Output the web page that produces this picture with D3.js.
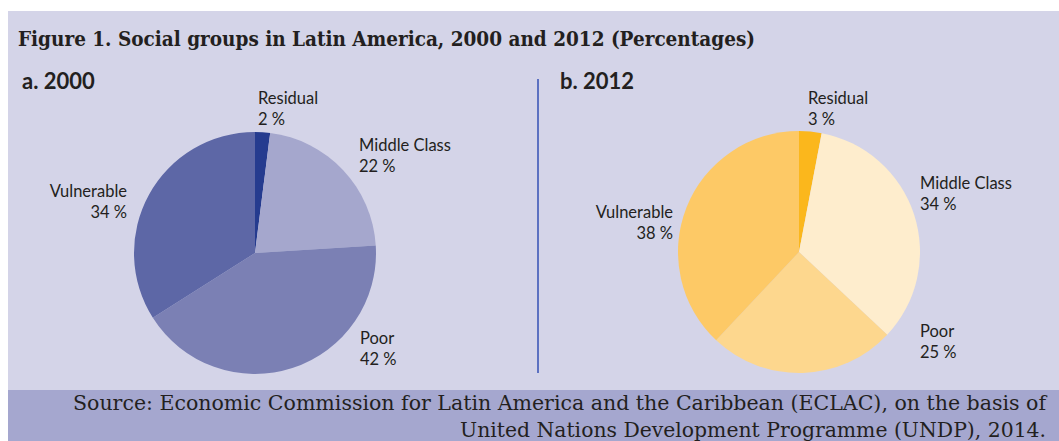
<!DOCTYPE html>
<html>
<head>
<meta charset="utf-8">
<script src="https://cdn.jsdelivr.net/npm/d3@7"></script>
<style>
  html, body { margin: 0; padding: 0; background: #fff; }
  svg { display: block; }
</style>
</head>
<body>
<svg width="1059" height="441"></svg>
<script>
// data
const groups = ["Residual", "Middle Class", "Poor", "Vulnerable"];
const values2000 = [2, 22, 42, 34];
const values2012 = [3, 34, 25, 38];
const panelTitles = ["a. 2000", "b. 2012"];

const svg = d3.select("svg");
const W = 1059, H = 441;

// background panels
svg.append("rect").attr("x", 8).attr("y", 11).attr("width", W - 8).attr("height", 379).attr("fill", "#d4d4e8");
svg.append("rect").attr("x", 8).attr("y", 390).attr("width", W - 8).attr("height", H - 390).attr("fill", "#a5a7cf");

const slab = "'DejaVu Serif Condensed', 'DejaVu Serif', serif";

svg.append("text")
  .attr("x", 18).attr("y", 46)
  .attr("font-family", slab).attr("font-weight", "bold").attr("font-size", 21)
  .attr("fill", "#231f20")
  .attr("textLength", 737).attr("lengthAdjust", "spacingAndGlyphs")
  .text("Figure 1. Social groups in Latin America, 2000 and 2012 (Percentages)");

// divider
svg.append("line").attr("x1", 538).attr("x2", 538).attr("y1", 79).attr("y2", 373)
  .attr("stroke", "#3550b5").attr("stroke-width", 1.5);

const panels = [
  { title: panelTitles[0], tx: 22, cx: 255, cy: 253, values: values2000,
    colors: ["#253b8f", "#a5a7cd", "#7b80b4", "#5d67a6"],
    labels: [
      { x: 258, y: 104, anchor: "start" },
      { x: 359, y: 151, anchor: "start" },
      { x: 360, y: 344, anchor: "start" },
      { x: 127, y: 197, anchor: "end" }
    ] },
  { title: panelTitles[1], tx: 560, cx: 799, cy: 252, values: values2012,
    colors: ["#fbb71c", "#feedcd", "#fdd78e", "#fdc966"],
    labels: [
      { x: 808, y: 104, anchor: "start" },
      { x: 920, y: 189, anchor: "start" },
      { x: 920, y: 337, anchor: "start" },
      { x: 673, y: 218, anchor: "end" }
    ] }
];

const pie = d3.pie().sort(null).value(d => d);
const arc = d3.arc().innerRadius(0).outerRadius(121);

panels.forEach(p => {
  svg.append("text")
    .attr("x", p.tx).attr("y", 89)
    .attr("font-family", "Lato, sans-serif").attr("font-weight", "bold").attr("font-size", 22)
    .attr("fill", "#231f20")
    .text(p.title);

  const g = svg.append("g").attr("transform", `translate(${p.cx},${p.cy})`);
  g.selectAll("path")
    .data(pie(p.values))
    .join("path")
    .attr("d", arc)
    .attr("fill", (d, i) => p.colors[i]);

  groups.forEach((name, i) => {
    const l = p.labels[i];
    const t = svg.append("text")
      .attr("font-family", "Lato, sans-serif").attr("font-size", 16.5)
      .attr("fill", "#231f20")
      .attr("text-anchor", l.anchor);
    t.append("tspan").attr("x", l.x).attr("y", l.y).text(name);
    t.append("tspan").attr("x", l.x).attr("y", l.y + 21).text(p.values[i] + " %");
  });
});

// source
const src = svg.append("g")
  .attr("font-family", slab).attr("font-size", 20).attr("fill", "#231f20")
  .attr("text-anchor", "end");
src.append("text").attr("x", 1046).attr("y", 410)
  .attr("textLength", 973).attr("lengthAdjust", "spacingAndGlyphs")
  .text("Source: Economic Commission for Latin America and the Caribbean (ECLAC), on the basis of");
src.append("text").attr("x", 1046).attr("y", 437)
  .attr("textLength", 586).attr("lengthAdjust", "spacingAndGlyphs")
  .text("United Nations Development Programme (UNDP), 2014.");
</script>
</body>
</html>
